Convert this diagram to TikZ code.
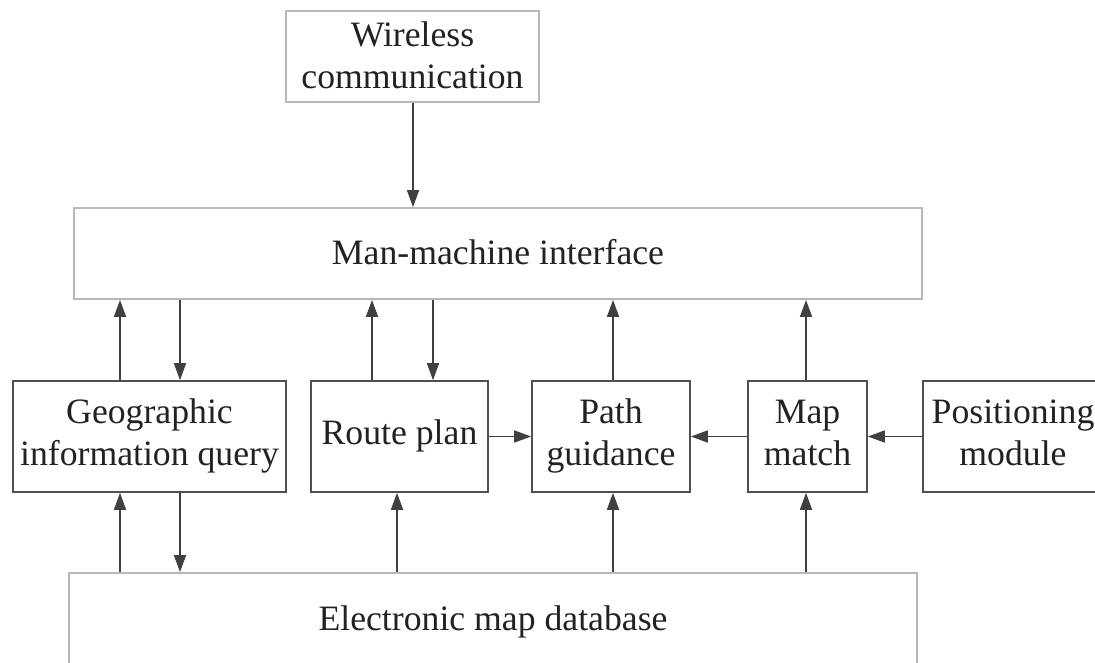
\documentclass[tikz,border=0pt]{standalone}
\usepackage{fontspec}
\setmainfont{Liberation Serif}
\usetikzlibrary{arrows.meta}
\definecolor{lightb}{HTML}{B8B8B8}
\definecolor{darkb}{HTML}{505050}
\definecolor{arrc}{HTML}{404040}
\definecolor{txt}{HTML}{222222}
\newcommand\lowr[1]{\raisebox{-3pt}{#1}}
\tikzset{
  base/.style={rectangle, inner sep=0pt, text=txt, align=center,
    font=\fontsize{35.7}{42}\selectfont},
  lightbox/.style={base, draw=lightb, line width=1.8pt},
  darkbox/.style={base, draw=darkb, line width=1.6pt},
  arr/.style={draw=arrc, line width=1.5pt, -{Triangle[length=17pt,width=12pt]}},
}
\begin{document}
\begin{tikzpicture}[x=1pt,y=-1pt]
\useasboundingbox (0,0) rectangle (1095,662);
\clip (0,0) rectangle (1095,662);
\fill[white] (0,0) rectangle (1095,662);

\node[lightbox, minimum width=253pt, minimum height=91pt] (wl) at (412.5,56.5) {\strut\lowr{Wireless}\\\lowr{communication}\strut};
\node[lightbox, minimum width=848pt, minimum height=91pt] (mmi) at (498,253.5) {\strut\lowr{Man-machine interface}};
\node[darkbox, minimum width=273pt, minimum height=111pt] (geo) at (149.5,436.5) {\strut Geographic\\information query\strut};
\node[darkbox, minimum width=177pt, minimum height=111pt] (route) at (399.5,436.5) {\strut Route plan};
\node[darkbox, minimum width=158pt, minimum height=111pt] (path) at (611,436.5) {\strut Path\\guidance\strut};
\node[darkbox, minimum width=119pt, minimum height=111pt] (mm) at (807.5,436.5) {\strut Map\\match\strut};
\node[darkbox, minimum width=180pt, minimum height=111pt] (pos) at (1013,436.5) {\strut Positioning\\module\strut};
\node[lightbox, minimum width=848pt, minimum height=98pt] (db) at (493,622) {\strut Electronic map database};

\coordinate (xa) at (120,0);
\coordinate (xb) at (180,0);
\coordinate (xc) at (372,0);
\coordinate (xd) at (433,0);
\coordinate (xe) at (397,0);
\coordinate (xf) at (613,0);
\coordinate (xg) at (806,0);
\coordinate (xw) at (413,0);

\draw[arr] (xw |- wl.south) -- (xw |- mmi.north);
\draw[arr] (xa |- geo.north) -- (xa |- mmi.south);
\draw[arr] (xb |- mmi.south) -- (xb |- geo.north);
\draw[arr] (xc |- route.north) -- (xc |- mmi.south);
\draw[arr] (xd |- mmi.south) -- (xd |- route.north);
\draw[arr] (xf |- path.north) -- (xf |- mmi.south);
\draw[arr] (xg |- mm.north) -- (xg |- mmi.south);

\draw[arr] (xa |- db.north) -- (xa |- geo.south);
\draw[arr] (xb |- geo.south) -- (xb |- db.north);
\draw[arr] (xe |- db.north) -- (xe |- route.south);
\draw[arr] (xf |- db.north) -- (xf |- path.south);
\draw[arr] (xg |- db.north) -- (xg |- mm.south);

\draw[arr] (route.east) -- (path.west);
\draw[arr] (mm.west) -- (path.east);
\draw[arr] (pos.west) -- (mm.east);
\end{tikzpicture}
\end{document}
